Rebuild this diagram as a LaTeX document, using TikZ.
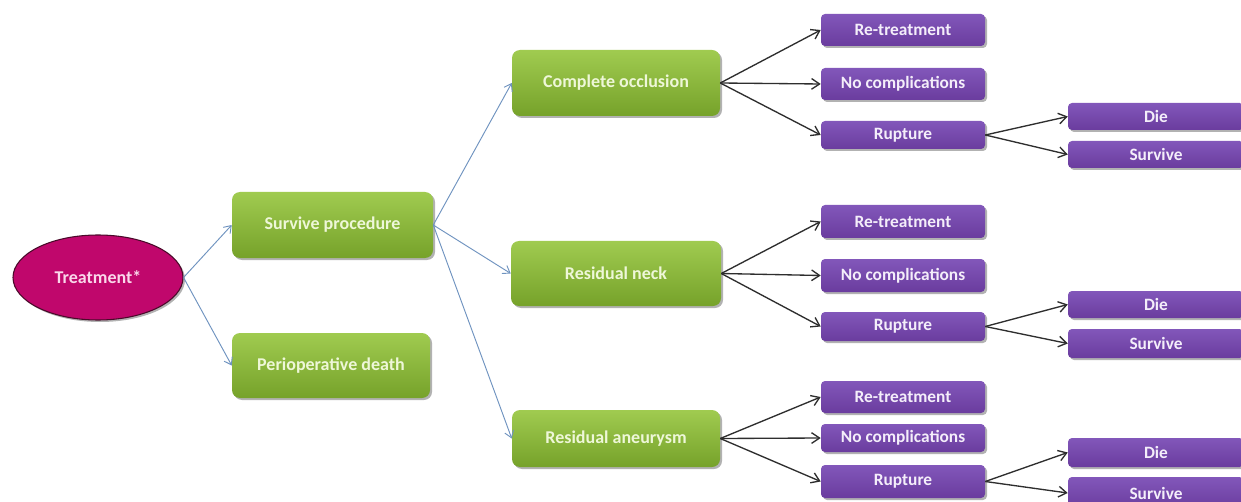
\documentclass[tikz,border=0pt]{standalone}
\usepackage{fontspec}
\setmainfont{Carlito}
\usetikzlibrary{shapes.geometric,shadows,arrows.meta}
\definecolor{gtop}{HTML}{A0CB50}
\definecolor{gbot}{HTML}{76A22A}
\definecolor{gtxt}{HTML}{EEF7D8}
\definecolor{ptop}{HTML}{8257BA}
\definecolor{pbot}{HTML}{6A3C9E}
\definecolor{ptxt}{HTML}{F4EEFA}
\definecolor{mag}{HTML}{C0076C}
\definecolor{magd}{HTML}{4A0A2A}
\definecolor{mtxt}{HTML}{FAD8EA}
\definecolor{bluearr}{HTML}{6F93C0}
\definecolor{blackarr}{HTML}{2E2E2E}
\begin{document}
\begin{tikzpicture}[x=0.75pt,y=-0.75pt,
  shad/.style={drop shadow={shadow xshift=1.5pt,shadow yshift=-1.5pt,opacity=0.3,fill=black}},
  gbox/.style={rectangle, rounded corners=6pt, top color=gtop, bottom color=gbot,
    text=gtxt, font=\fontsize{13.5}{16}\selectfont\bfseries, inner sep=0pt, shad},
  pbox/.style={rectangle, rounded corners=3pt, top color=ptop, bottom color=pbot,
    text=ptxt, font=\fontsize{13}{15}\selectfont\bfseries, inner sep=0pt,
    minimum width=123pt, shad},
  dbox/.style={pbox, minimum width=132pt},
  barr/.style={-{Straight Barb[length=5pt,width=7pt]}, draw=bluearr, line width=0.7pt},
  karr/.style={-{Straight Barb[length=6pt,width=8pt]}, draw=blackarr, line width=1pt}
]
\fill[white] (0,0) rectangle (1241,502);
\useasboundingbox (0,0) rectangle (1241,502);

% root
\node[ellipse, draw=magd, line width=0.8pt, fill=mag, text=mtxt,
  minimum width=127.5pt, minimum height=63.75pt, inner sep=0pt,
  font=\fontsize{13.5}{16}\selectfont\bfseries, shad] (treat) at (98,277.5) {Treatment*};

% level 1
\node[gbox, minimum width=150.75pt, minimum height=49.5pt] (sp) at (332.5,225) {Survive procedure};
\node[gbox, minimum width=148.5pt, minimum height=48.75pt] (pd) at (331,365.5) {Perioperative death};

% level 2
\node[gbox, minimum width=156pt, minimum height=49.5pt] (co) at (616,83) {Complete occlusion};
\node[gbox, minimum width=157.5pt, minimum height=48.75pt] (rn) at (616,273.5) {Residual neck};
\node[gbox, minimum width=156pt, minimum height=42.75pt] (ra) at (616,438.5) {Residual aneurysm};

% level 3 - top
\node[pbox, minimum height=24pt] (rt1) at (903,30) {Re-treatment};
\node[pbox, minimum height=24pt] (nc1) at (903,84) {No complications};
\node[pbox, minimum height=21pt] (ru1) at (903,135) {Rupture};
% level 3 - middle
\node[pbox, minimum height=24.75pt] (rt2) at (903,221.5) {Re-treatment};
\node[pbox, minimum height=24.75pt] (nc2) at (903,275.5) {No complications};
\node[pbox, minimum height=21.75pt] (ru2) at (903,326.5) {Rupture};
% level 3 - bottom
\node[pbox, minimum height=24pt] (rt3) at (903,397) {Re-treatment};
\node[pbox, minimum height=21pt] (nc3) at (903,438) {No complications};
\node[pbox, minimum height=24.75pt] (ru3) at (903,481.5) {Rupture};

% level 4
\node[dbox, minimum height=20.25pt] (d1) at (1156,116.5) {Die};
\node[dbox, minimum height=20.25pt] (s1) at (1156,154.5) {Survive};
\node[dbox, minimum height=20.25pt] (d2) at (1156,304.5) {Die};
\node[dbox, minimum height=21.75pt] (s2) at (1156,343.5) {Survive};
\node[dbox, minimum height=21.75pt] (d3) at (1156,452.5) {Die};
\node[dbox, minimum height=24pt] (s3) at (1156,493) {Survive};

% blue connectors
\draw[barr] (treat.east) -- (sp.west);
\draw[barr] (treat.east) -- (pd.west);
\draw[barr] (sp.east) -- (co.west);
\draw[barr] (sp.east) -- (rn.west);
\draw[barr] (sp.east) -- (ra.west);

% black connectors
\foreach \g/\a/\b/\c in {co/rt1/nc1/ru1, rn/rt2/nc2/ru2, ra/rt3/nc3/ru3}{
  \draw[karr] (\g.east) -- (\a.west);
  \draw[karr] (\g.east) -- (\b.west);
  \draw[karr] (\g.east) -- (\c.west);
}
\foreach \r/\d/\s in {ru1/d1/s1, ru2/d2/s2, ru3/d3/s3}{
  \draw[karr] (\r.east) -- (\d.west);
  \draw[karr] (\r.east) -- (\s.west);
}
\end{tikzpicture}
\end{document}
